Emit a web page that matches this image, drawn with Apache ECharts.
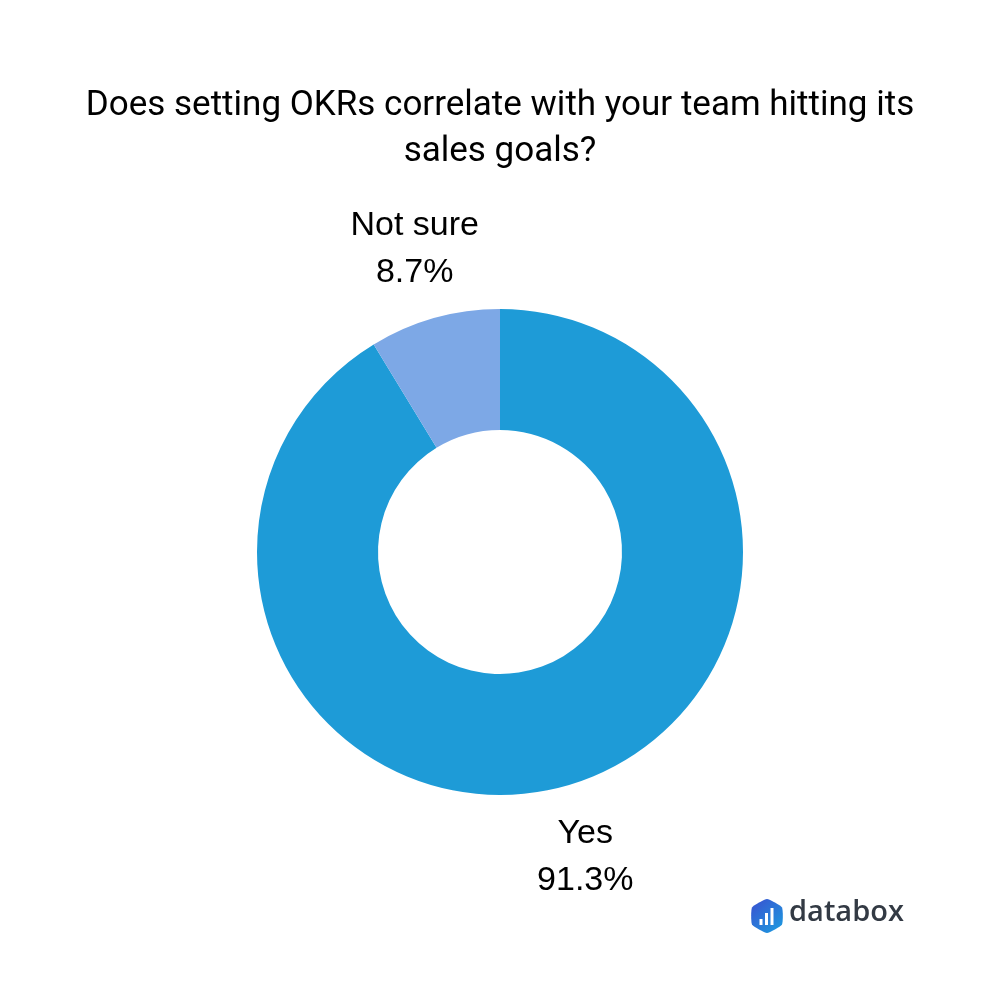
<!DOCTYPE html>
<html><head><meta charset="utf-8">
<script src="https://cdn.jsdelivr.net/npm/echarts@6/dist/echarts.min.js"></script>
<style>html,body{margin:0;padding:0;background:#fff}#c{width:1000px;height:1000px}</style>
</head><body><div id="c"></div>
<script>
const titleLines = ['Does setting OKRs correlate with your team hitting its', 'sales goals?'];
const categories = ['Yes', 'Not sure'];
const values = [91.3, 8.7];
const colors = ['#1E9BD7', '#7DA8E6'];

const CX = 500, CY = 552, LABEL_R = 316;
const total = values.reduce((a, b) => a + b, 0);
const midAngles = [];
let acc = 0;
values.forEach(v => { midAngles.push((acc + v / 2) / total * 2 * Math.PI); acc += v; });

const chart = echarts.init(document.getElementById('c'), null, {renderer: 'canvas'});
chart.setOption({
  backgroundColor: '#fff',
  animation: false,
  title: {
    text: titleLines.join('\n'),
    left: 'center', top: 78,
    textStyle: {fontFamily: 'Roboto', fontSize: 35, fontWeight: 'normal', color: '#000', lineHeight: 46}
  },
  series: [{
    type: 'pie',
    center: [CX, CY],
    radius: [122, 243],
    startAngle: 90,
    clockwise: true,
    silent: true,
    data: categories.map((c, i) => ({name: c, value: values[i], itemStyle: {color: colors[i]}})),
    label: {
      show: true, position: 'outside',
      formatter: p => p.name + '\n' + p.value.toFixed(1) + '%',
      fontFamily: 'Liberation Sans', fontSize: 34, color: '#000', lineHeight: 47, align: 'center'
    },
    labelLine: {show: false},
    labelLayout: p => {
      const a = midAngles[p.dataIndex];
      return {x: CX + LABEL_R * Math.sin(a), y: CY - LABEL_R * Math.cos(a) + 1, align: 'center', verticalAlign: 'middle'};
    }
  }],
  graphic: [
    {type: 'polygon', shape: {points: [[767, 899], [782, 907.5], [782, 924.5], [767, 933], [752, 924.5], [752, 907.5]], smooth: 0.15},
     style: {fill: new echarts.graphic.LinearGradient(0, 0, 1, 1, [{offset: 0, color: '#3a4fd0'}, {offset: 1, color: '#1b9ee0'}])}},
    {type: 'rect', shape: {x: 759.5, y: 919, width: 3, height: 6}, style: {fill: '#fff'}},
    {type: 'rect', shape: {x: 765, y: 913, width: 3, height: 12}, style: {fill: '#fff'}},
    {type: 'rect', shape: {x: 770.5, y: 908, width: 3, height: 17}, style: {fill: '#fff'}},
    {type: 'text', left: 789, top: 898, style: {text: 'databox', fontFamily: 'Open Sans', fontSize: 29, fontWeight: 600, fill: '#333a44'}}
  ]
});
</script></body></html>
